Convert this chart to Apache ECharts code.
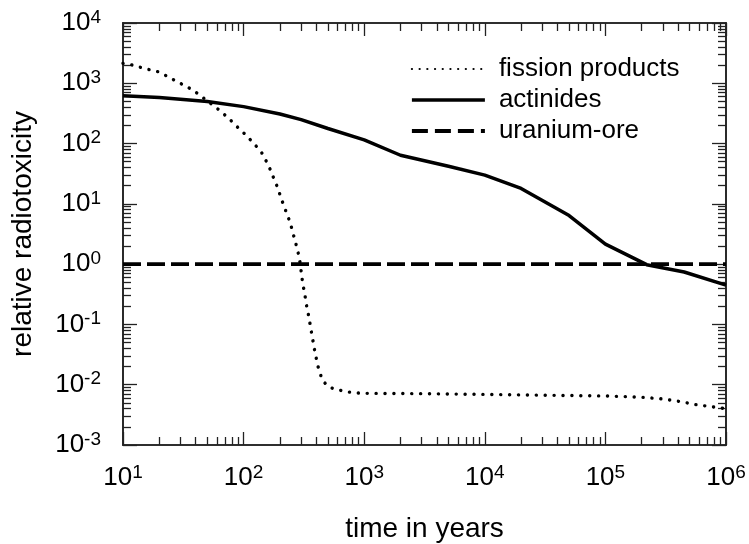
<!DOCTYPE html>
<html>
<head>
<meta charset="utf-8">
<script src="https://cdn.jsdelivr.net/npm/echarts@6/dist/echarts.min.js"></script>
<style>
html,body{margin:0;padding:0;background:#fff;}
#chart{width:749px;height:544px;}
</style>
</head>
<body>
<div id="chart"></div>
<script>
// ---- data ----
const fissionYears  = [10, 11.8, 13.8, 16.4, 19.4, 23, 27, 32, 38, 45, 53.5, 63, 75, 88, 104, 123, 141, 155, 168, 179, 192, 203, 216, 230, 244, 255, 267, 279, 290, 297, 303, 310, 321, 329, 340, 351, 360, 372, 381, 395, 408, 427, 456, 518, 614, 724, 861, 1000, 3000, 10000, 30000, 100000, 200000, 300000, 430000, 550000, 700000, 1000000];
const fissionValues = [2140, 2020, 1850, 1690, 1560, 1325, 1110, 930, 770, 600, 460, 358, 264, 192, 140, 98, 71, 50, 35.6, 25.6, 18.4, 13, 9.2, 6.6, 4.83, 3.43, 2.45, 1.77, 1.25, 0.90, 0.65, 0.46, 0.33, 0.23, 0.166, 0.121, 0.086, 0.062, 0.044, 0.032, 0.0224, 0.016, 0.0114, 0.0090, 0.0082, 0.0076, 0.0073, 0.0072, 0.0071, 0.0069, 0.0067, 0.0065, 0.0062, 0.0058, 0.0052, 0.0047, 0.0044, 0.0040];

const actinideYears  = [10, 20, 50, 100, 200, 300, 500, 1000, 2000, 5000, 10000, 20000, 50000, 100000, 220000, 450000, 1000000];
const actinideValues = [620, 580, 500, 410, 310, 250, 178, 115, 64, 42, 30, 18, 6.4, 2.15, 0.98, 0.74, 0.45];

const oreYears  = [10, 1000000];
const oreValues = [1, 1];

const seriesNames = ['fission products', 'actinides', 'uranium-ore'];

const xMajorTicks = [10, 100, 1000, 10000, 100000, 1000000];
const yMajorTicks = [0.001, 0.01, 0.1, 1, 10, 100, 1000, 10000];
const minorMultipliers = [2, 3, 4, 5, 6, 7, 8, 9];

// ---- build ----
function minorOf(majors) {
  const out = [];
  for (let i = 0; i < majors.length - 1; i++) {
    minorMultipliers.forEach(m => out.push(majors[i] * m));
  }
  return out;
}
const xMinorTicks = minorOf(xMajorTicks);
const yMinorTicks = minorOf(yMajorTicks);

function pairs(xs, ys) { return xs.map((x, i) => [x, ys[i]]); }

const FONT = "'Liberation Sans', Arial, Helvetica, sans-serif";
const AXIS_COLOR = '#222';
const rich = {
  b: { fontSize: 26, fontFamily: FONT, color: '#000', lineHeight: 30 },
  s: { fontSize: 19, fontFamily: FONT, color: '#000', lineHeight: 20, verticalAlign: 'top' }
};
function powLabel(v) {
  const e = Math.round(Math.log10(v));
  return '{b|10}{s|' + e + '}';
}

function makeAxis(dim, position, ticks, len, withLabels, extra) {
  const isX = dim === 'x';
  const majors = isX ? xMajorTicks : yMajorTicks;
  const ax = {
    type: 'log',
    logBase: 10,
    min: majors[0],
    max: majors[majors.length - 1],
    position: position,
    axisLine: { show: true, onZero: false, lineStyle: { color: AXIS_COLOR, width: 1.6 } },
    axisTick: { show: true, inside: true, length: len, customValues: ticks, lineStyle: { color: AXIS_COLOR, width: 1.3 } },
    axisLabel: withLabels ? {
      show: true,
      customValues: majors,
      formatter: powLabel,
      fontSize: 26,
      fontFamily: FONT,
      color: '#000',
      rich: rich,
      margin: isX ? 18 : 22,
      hideOverlap: false
    } : { show: false },
    splitLine: { show: false },
    minorTick: { show: false }
  };
  return Object.assign(ax, extra || {});
}

const xAxes = [
  makeAxis('x', 'bottom', xMajorTicks, 13, true, {
    name: 'time in years', nameLocation: 'middle', nameGap: 70,
    nameTextStyle: { fontSize: 28, fontFamily: FONT, color: '#000' }
  }),
  makeAxis('x', 'bottom', xMinorTicks, 8, false),
  makeAxis('x', 'top', xMajorTicks, 13, false),
  makeAxis('x', 'top', xMinorTicks, 8, false)
];
const yAxes = [
  makeAxis('y', 'left', yMajorTicks, 14, true, {
    name: 'relative radiotoxicity', nameLocation: 'middle', nameGap: 86, nameRotate: 90,
    nameTextStyle: { fontSize: 28, fontFamily: FONT, color: '#000' }
  }),
  makeAxis('y', 'left', yMinorTicks, 8, false),
  makeAxis('y', 'right', yMajorTicks, 14, false),
  makeAxis('y', 'right', yMinorTicks, 8, false)
];

const legendLines = [
  { width: 2.2, type: [0.1, 7.6], cap: 'round' },
  { width: 3.5, type: 'solid' },
  { width: 3.8, type: [16, 7] }
];

const option = {
  backgroundColor: '#fff',
  animation: false,
  grid: { left: 123, right: 23, top: 23, bottom: 99, containLabel: false, outerBoundsMode: 'none' },
  legend: {
    data: seriesNames.map((n, i) => ({ name: n, lineStyle: Object.assign({ color: '#000' }, legendLines[i]) })),
    orient: 'vertical',
    left: 410,
    top: 56,
    padding: 0,
    itemWidth: 73,
    itemHeight: 14,
    itemGap: 5,
    itemStyle: { opacity: 0 },
    textStyle: { fontSize: 26, fontFamily: FONT, color: '#000', padding: [0, 0, 0, 9] }
  },
  xAxis: xAxes,
  yAxis: yAxes,
  series: [
    {
      name: seriesNames[0], type: 'line', xAxisIndex: 0, yAxisIndex: 0,
      data: pairs(fissionYears, fissionValues),
      showSymbol: false, symbol: 'none',
      lineStyle: { color: '#000', width: 3.4, type: [0.1, 8.8], cap: 'round' },
      itemStyle: { color: '#000' }
    },
    {
      name: seriesNames[1], type: 'line', xAxisIndex: 0, yAxisIndex: 0,
      data: pairs(actinideYears, actinideValues),
      showSymbol: false, symbol: 'none',
      lineStyle: { color: '#000', width: 3.5, type: 'solid' },
      itemStyle: { color: '#000' }
    },
    {
      name: seriesNames[2], type: 'line', xAxisIndex: 0, yAxisIndex: 0,
      data: pairs(oreYears, oreValues),
      showSymbol: false, symbol: 'none',
      lineStyle: { color: '#000', width: 3.8, type: [18, 6] },
      itemStyle: { color: '#000' }
    }
  ]
};

const chart = echarts.init(document.getElementById('chart'), null, { renderer: 'canvas' });
chart.setOption(option);
</script>
</body>
</html>
